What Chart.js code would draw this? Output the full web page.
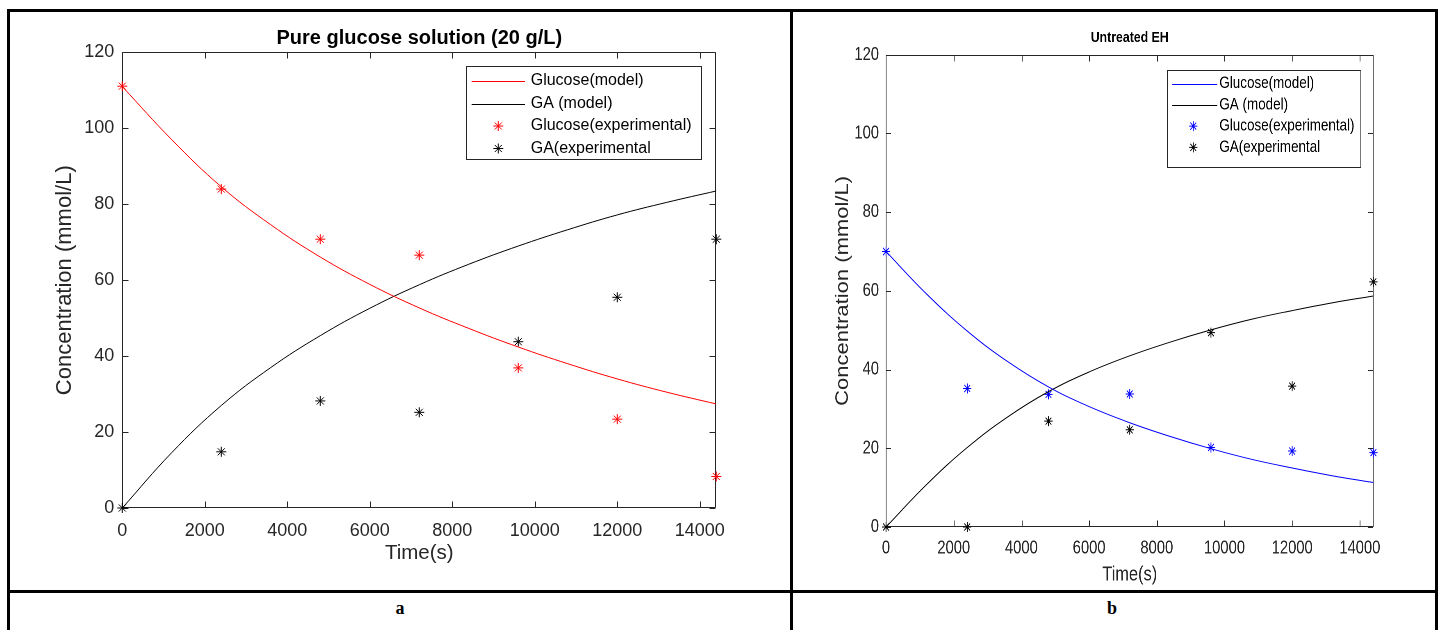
<!DOCTYPE html>
<html><head><meta charset="utf-8">
<script src="https://cdn.jsdelivr.net/npm/chart.js@4.4.0/dist/chart.umd.min.js"></script>
<style>
html,body{margin:0;padding:0;background:#fff;width:1443px;height:630px;overflow:hidden;position:relative}
.ln{position:absolute;background:#000}
.cell{position:absolute}
.lab{position:absolute;font:bold 18px "Liberation Serif","Times New Roman",serif;color:#000;transform:translate(-50%,-50%)}
#cellb{transform:scaleX(0.82);transform-origin:0 0}
</style></head><body>
<div class="cell" style="left:10px;top:12px;width:780px;height:578px"><canvas id="ca" width="780" height="578" style="width:780px;height:578px"></canvas></div>
<div class="cell" id="cellb" style="left:793px;top:12px;width:783px;height:578px"><canvas id="cb" width="783" height="578" style="width:783px;height:578px"></canvas></div>
<div class="ln" style="left:7px;top:9px;width:3px;height:640px"></div>
<div class="ln" style="left:7px;top:9px;width:1431px;height:3px"></div>
<div class="ln" style="left:790px;top:9px;width:3px;height:640px"></div>
<div class="ln" style="left:1435px;top:9px;width:3px;height:640px"></div>
<div class="ln" style="left:7px;top:590px;width:1431px;height:3px"></div>
<div class="lab" style="left:400px;top:608px">a</div>
<div class="lab" style="left:1112px;top:608px">b</div>
<script>
// ---------- data ----------
const timeExp = [0, 2400, 4800, 7200, 9600, 12000, 14400];
const timeModel = [0, 1200, 2400, 3600, 4800, 6000, 7200, 8400, 9600, 10800, 12000, 13200, 14400];

const glucoseExpA = [111.1, 84.0, 70.8, 66.6, 36.9, 23.4, 8.3];
const gaExpA = [0, 14.8, 28.2, 25.2, 43.8, 55.5, 70.8];
const glucoseModelA = [111.0, 97.0, 84.6, 74.6, 66.1, 58.9, 52.7, 47.3, 42.4, 38.0, 34.0, 30.5, 27.4];
const gaModelA = [0, 14.6, 27.0, 37.0, 45.4, 52.6, 58.8, 64.2, 69.0, 73.3, 77.2, 80.5, 83.5];

const glucoseExpB = [70.0, 35.2, 33.7, 33.8, 20.2, 19.3, 18.9];
const gaExpB = [0, 0, 26.9, 24.7, 49.4, 35.8, 62.3];
const glucoseModelB = [70.0, 59.2, 49.8, 42.0, 35.6, 30.6, 26.5, 23.0, 19.9, 17.2, 15.0, 13.0, 11.3];
const gaModelB = [0, 10.8, 20.2, 28.0, 34.4, 39.4, 43.5, 47.0, 50.1, 52.8, 55.0, 57.0, 58.7];

const xTicks = [0, 2000, 4000, 6000, 8000, 10000, 12000, 14000];
const yTicks = [0, 20, 40, 60, 80, 100, 120];
const xMax = 14400, yMax = 120;

const titleA = 'Pure glucose solution (20 g/L)';
const titleB = 'Untreated EH';
const legendLabels = ['Glucose(model)', 'GA (model)', 'Glucose(experimental)', 'GA(experimental'];
const xLabel = 'Time(s)';
const yLabel = 'Concentration (mmol/L)';

const SANS = '"Liberation Sans", Arial, Helvetica, sans-serif';
const AXC = '#262626';

// ---------- plugins ----------
const mAxes = {
  id: 'mAxes',
  beforeDatasetsDraw(chart) {
    const { ctx, chartArea: a, scales: { x, y } } = chart;
    const tl = 6;
    ctx.save();
    ctx.strokeStyle = AXC;
    ctx.lineWidth = 1;
    const L = Math.round(a.left) + 0.5, R = Math.round(a.right) - 0.5;
    const T = Math.round(a.top) + 0.5, B = Math.round(a.bottom) - 0.5;
    ctx.beginPath();
    ctx.rect(L, T, R - L, B - T);
    x.ticks.forEach(t => {
      const p = Math.round(x.getPixelForValue(t.value)) + 0.5;
      ctx.moveTo(p, B); ctx.lineTo(p, B - tl);
      ctx.moveTo(p, T); ctx.lineTo(p, T + tl);
    });
    y.ticks.forEach(t => {
      const p = Math.round(y.getPixelForValue(t.value)) + 0.5;
      ctx.moveTo(L, p); ctx.lineTo(L + tl, p);
      ctx.moveTo(R, p); ctx.lineTo(R - tl, p);
    });
    ctx.stroke();
    ctx.restore();
  }
};

const mLegend = {
  id: 'mLegend',
  afterDraw(chart, args, o) {
    const ctx = chart.ctx;
    ctx.save();
    ctx.fillStyle = '#fff';
    ctx.fillRect(o.left, o.top, o.width, o.height);
    ctx.strokeStyle = AXC;
    ctx.lineWidth = 1;
    ctx.strokeRect(Math.round(o.left) + 0.5, Math.round(o.top) + 0.5, Math.round(o.width), Math.round(o.height));
    chart.data.datasets.forEach((ds, i) => {
      const yy = o.rows[i];
      ctx.strokeStyle = ds.borderColor;
      ctx.fillStyle = ds.borderColor;
      if (ds.showLine) {
        ctx.lineWidth = 1;
        ctx.beginPath();
        ctx.moveTo(o.lineX1, Math.round(yy) + 0.5);
        ctx.lineTo(o.lineX2, Math.round(yy) + 0.5);
        ctx.stroke();
      } else {
        Chart.helpers.drawPoint(ctx, { pointStyle: ds.pointStyle, radius: ds.pointRadius, borderWidth: 1, rotation: 0 }, o.markerX, yy);
      }
      ctx.fillStyle = '#000';
      ctx.font = o.font;
      ctx.textBaseline = 'middle';
      ctx.textAlign = 'left';
      ctx.fillText(ds.label, o.textX, yy);
    });
    ctx.restore();
  }
};

const pts = (xs, ys) => xs.map((v, i) => ({ x: v, y: ys[i] }));

function makeChart(id, cfg) {
  const lineDs = (label, data, color) => ({
    label, data, borderColor: color, backgroundColor: color, borderWidth: 1,
    pointRadius: 0, pointHoverRadius: 0, showLine: true, fill: false, tension: 0.4
  });
  const ptDs = (label, data, color) => ({
    label, data, borderColor: color, backgroundColor: color, showLine: false,
    pointStyle: 'star', pointRadius: 5, pointBorderWidth: 1, pointHoverRadius: 5, clip: false
  });
  return new Chart(document.getElementById(id), {
    type: 'scatter',
    data: {
      datasets: [
        lineDs(legendLabels[0], pts(timeModel, cfg.gm), cfg.color),
        lineDs(legendLabels[1], pts(timeModel, cfg.am), '#000000'),
        ptDs(legendLabels[2], pts(timeExp, cfg.ge), cfg.color),
        ptDs(legendLabels[3], pts(timeExp, cfg.ae), '#000000')
      ]
    },
    options: {
      responsive: false,
      animation: false,
      devicePixelRatio: cfg.dpr,
      events: [],
      layout: { padding: { left: 0, right: cfg.padRight, top: 0, bottom: 0 } },
      plugins: {
        legend: { display: false },
        tooltip: { enabled: false },
        title: {
          display: true, text: cfg.title, fullSize: false, color: '#000',
          font: { family: SANS, size: cfg.titleSize, weight: 'bold', lineHeight: 1.2 },
          padding: { top: cfg.titlePadTop, bottom: cfg.titlePadBottom }
        },
        mLegend: cfg.legend
      },
      scales: {
        x: {
          type: 'linear', position: 'bottom', min: 0, max: xMax,
          grid: { display: false, drawTicks: false }, border: { display: false },
          afterBuildTicks: s => { s.ticks = xTicks.map(v => ({ value: v })); },
          afterFit: s => { s.height = cfg.xAxisH; },
          ticks: {
            autoSkip: false, maxRotation: 0, minRotation: 0, color: AXC,
            padding: cfg.xTickPad, font: { family: SANS, size: cfg.tickSize },
            callback: v => String(v)
          },
          title: {
            display: true, text: xLabel, color: AXC,
            font: { family: SANS, size: cfg.xLabSize, lineHeight: 1.2 },
            padding: { top: 0, bottom: cfg.xLabPad }
          }
        },
        y: {
          type: 'linear', position: 'left', min: 0, max: yMax,
          grid: { display: false, drawTicks: false }, border: { display: false },
          afterBuildTicks: s => { s.ticks = yTicks.map(v => ({ value: v })); },
          afterFit: s => { s.width = cfg.yAxisW; },
          ticks: {
            autoSkip: false, color: AXC, padding: cfg.yTickPad,
            font: { family: SANS, size: cfg.tickSize },
            callback: v => String(v)
          },
          title: {
            display: true, text: yLabel, color: AXC,
            font: { family: SANS, size: cfg.yLabSize, lineHeight: 1.2 },
            padding: { top: cfg.yLabPad, bottom: 0 }
          }
        }
      }
    },
    plugins: [mAxes, mLegend]
  });
}

makeChart('ca', {
  gm: glucoseModelA, am: gaModelA, ge: glucoseExpA, ae: gaExpA, color: '#FF0000', dpr: 1,
  title: titleA, titleSize: 20, titlePadTop: 14, titlePadBottom: 2.4,
  padRight: 73.7, xAxisH: 82, yAxisW: 112.3,
  tickSize: 18, xTickPad: 12, yTickPad: 8,
  xLabSize: 20.5, xLabPad: 24.7,
  yLabSize: 22, yLabPad: 41.8,
  legend: {
    left: 456, top: 54, width: 234.7, height: 93.3,
    rows: [69, 91.5, 114, 136.5], lineX1: 461.7, lineX2: 515, markerX: 488.3, textX: 520.7,
    font: '16px ' + SANS
  }
});

// panel b is drawn wide and squeezed horizontally by 0.82 (as in the reference image)
const F = 0.82;
makeChart('cb', {
  gm: glucoseModelB, am: gaModelB, ge: glucoseExpB, ae: gaExpB, color: '#0000FF', dpr: 2,
  title: titleB, titleSize: 15, titlePadTop: 26 - 9, titlePadBottom: 42.8 - 26 - 9,
  padRight: 783 - 580.4 / F, xAxisH: 63, yAxisW: 93 / F,
  tickSize: 18, xTickPad: 10.5, yTickPad: 7 / F,
  xLabSize: 20, xLabPad: 3,
  yLabSize: 22, yLabPad: 50 / F - 13.2,
  legend: {
    left: 373.7 / F, top: 58, width: 193.3 / F, height: 97,
    rows: [71.5, 92.8, 114.1, 135.4], lineX1: 379.3 / F, lineX2: 424.3 / F, markerX: 400.3 / F, textX: 426.3 / F,
    font: '16.4px ' + SANS
  }
});
</script>
</body></html>
